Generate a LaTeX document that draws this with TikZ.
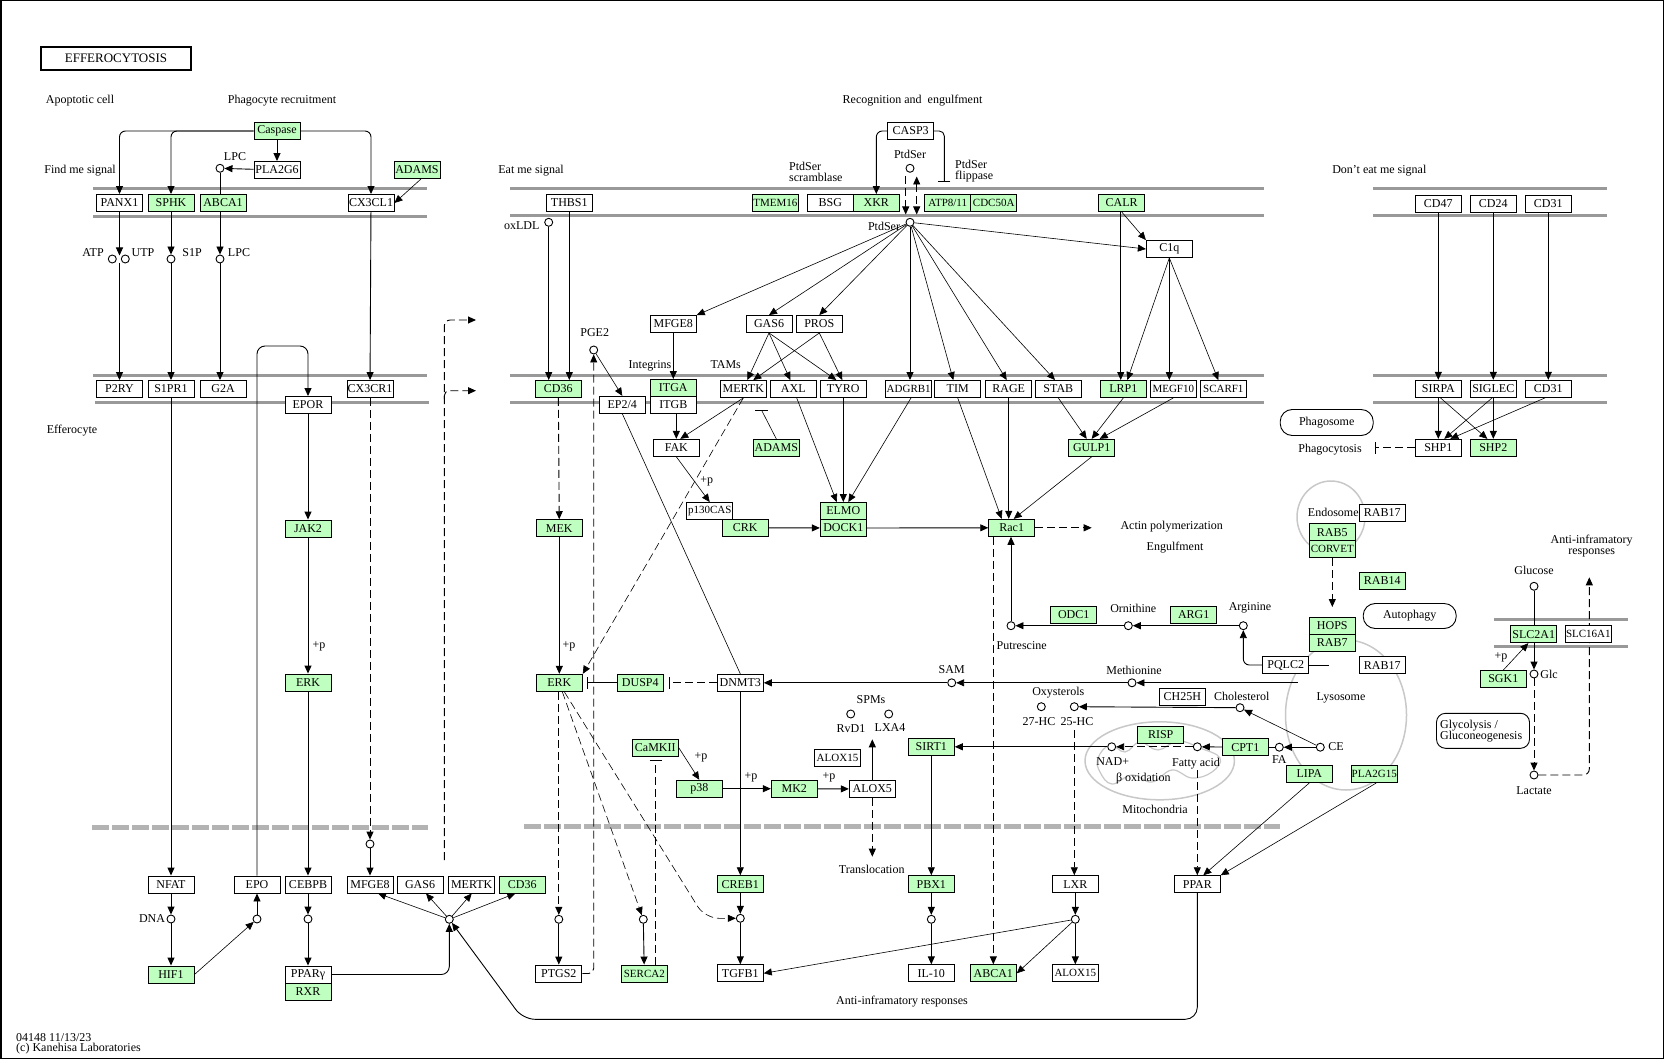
\documentclass[tikz,border=0pt]{standalone}
\usepackage{fontspec}
\setmainfont{Liberation Serif}
\usetikzlibrary{arrows.meta,calc}
\definecolor{kg}{RGB}{191,255,191}
\definecolor{membc}{RGB}{153,153,153}
\definecolor{lgray}{RGB}{200,200,200}
\definecolor{dgray}{RGB}{179,179,179}
\pgfdeclarelayer{back}\pgfdeclarelayer{mid}\pgfsetlayers{back,mid,main}
\begin{document}
\begin{tikzpicture}[x=1pt,y=-1pt,
  box/.style={draw, line width=0.9pt, fill=white, minimum width=46pt, minimum height=17pt, inner sep=0pt, font=\fontsize{12}{12}\selectfont},
  gbox/.style={box, fill=kg},
  nw/.style={font=\fontsize{11}{12}\selectfont},
  cpd/.style={circle, draw, line width=0.9pt, fill=white, minimum size=8pt, inner sep=0pt},
  lab/.style={inner sep=0pt, font=\fontsize{12}{13}\selectfont},
  rbox/.style={draw, line width=0.9pt, fill=white, rounded corners=12pt, minimum width=93pt, minimum height=26pt, inner sep=0pt, font=\fontsize{12}{13}\selectfont},
  arr/.style={-{Triangle[length=8pt,width=7pt]}, line width=0.9pt},
  tarr/.style={-{Triangle[length=8pt,width=7pt]}, line width=0.6pt},
  ln/.style={line width=0.9pt},
  tln/.style={line width=0.6pt},
  dsh/.style={dash pattern=on 8pt off 4pt},
  darr/.style={arr, dsh},
  tdarr/.style={tarr, dsh},
  inh/.style={-{Bar[width=12pt]}, line width=0.9pt},
  memb/.style={draw=membc, line width=3pt},
  nucl/.style={draw=dgray, line width=5pt, dash pattern=on 17pt off 3pt},
]
\useasboundingbox (0,0) rectangle (1664,1059);
\draw[line width=1.5pt] (0.75,0.75) rectangle (1663.25,1058.25);

% ---------------- background: membranes, organelles
\begin{pgfonlayer}{back}
\draw[memb] (93,189)--(427,189) (93,217)--(427,217);
\draw[memb] (510,189)--(1264,189) (510,216)--(1264,216);
\draw[memb] (1373,189)--(1607,189) (1373,216)--(1607,216);
\draw[memb] (93,375.7)--(427,375.7) (95,402.7)--(429,402.7);
\draw[memb] (510,375.7)--(1264,375.7) (510,402.7)--(1264,402.7);
\draw[memb] (1373,375.7)--(1607,375.7) (1373,402.7)--(1607,402.7);
\draw[memb] (1494,619.7)--(1628,619.7) (1494,646.7)--(1628,646.7);
\draw[nucl] (92,827.7)--(428,827.7);
\draw[nucl] (524,826.7)--(1280,826.7);
\draw[lgray, line width=1.5pt] (1331,517) ellipse [x radius=34pt, y radius=36pt];
\draw[lgray, line width=1.5pt] (1346,715) ellipse [x radius=60.5pt, y radius=75pt];
\draw[lgray, line width=1.5pt] (1159.7,760.8) ellipse [x radius=74.7pt, y radius=39pt];
\draw[lgray, line width=1.2pt] plot[smooth cycle, tension=0.7] coordinates {(1098,758) (1110,745) (1125,752) (1140,742) (1158,750) (1178,741) (1200,748) (1220,758) (1212,772) (1192,778) (1172,770) (1152,782) (1132,775) (1112,784) (1100,772)};
\end{pgfonlayer}

% ---------------- title and labels
\node[draw, line width=2pt, minimum width=150pt, minimum height=23.6pt, inner sep=0pt, font=\fontsize{13}{14}\selectfont] (title) at (116,58.5) {EFFEROCYTOSIS};
\node[lab] (tApop) at (80,101) {Apoptotic cell};
\node[lab] (tPhag) at (282,101) {Phagocyte recruitment};
\node[lab] (tFind) at (80,171) {Find me signal};
\node[lab] (tLPC1) at (235,157) {LPC};
\node[lab] (tATP) at (93,253) {ATP};
\node[lab] (tUTP) at (143,253) {UTP};
\node[lab] (tS1P) at (192,253) {S1P};
\node[lab] (tLPC2) at (239,253) {LPC};
\node[lab] (tEff) at (72,431) {Efferocyte};
\node[lab] (tp1) at (319,646) {+p};
\node[lab] (tDNA) at (152,919) {DNA};
\node[lab, anchor=west] (tfoot1) at (16,1037.7) {04148 11/13/23};
\node[lab, anchor=west] (tfoot2) at (16,1049) {(c) Kanehisa Laboratories};
\node[lab] (tEat) at (531,171) {Eat me signal};
\node[lab] (tox) at (521.7,225.3) {oxLDL};
\node[lab, anchor=west, align=left, font=\fontsize{12}{11}\selectfont] (tscr) at (789,172.2) {PtdSer\\scramblase};
\node[lab] (tRec) at (912.5,101) {Recognition and \ engulfment};
\node[lab] (tPS1) at (910,154.7) {PtdSer};
\node[lab, anchor=west, align=left, font=\fontsize{12}{11}\selectfont] (tflip) at (955,171.3) {PtdSer\\flippase};
\node[lab] (tPS2) at (884,226.7) {PtdSer};
\node[lab] (tPGE2) at (594.7,332.3) {PGE2};
\node[lab] (tInt) at (650,365.7) {Integrins};
\node[lab] (tTAM) at (725.7,365) {TAMs};
\node[lab] (tp2) at (706.7,481.7) {+p};
\node[lab] (tp3) at (569,646) {+p};
\node[lab] (tActin) at (1171.7,526.7) {Actin polymerization};
\node[lab] (tEng) at (1175,547.7) {Engulfment};
\node[lab] (tOrn) at (1133.3,608.3) {Ornithine};
\node[lab] (tArg) at (1250,608.3) {Arginine};
\node[lab] (tPut) at (1021.7,645.7) {Putrescine};
\node[lab] (tSAM) at (951.7,670) {SAM};
\node[lab] (tMet) at (1134,670) {Methionine};
\node[lab] (tSPM) at (871,700) {SPMs};
\node[lab] (tRvD1) at (851,729) {RvD1};
\node[lab] (tLXA4) at (890,727.3) {LXA4};
\node[lab] (tOxy) at (1058.3,692.7) {Oxysterols};
\node[lab] (t27) at (1039,722) {27-HC};
\node[lab] (t25) at (1077,722) {25-HC};
\node[lab] (tChol) at (1241.7,696) {Cholesterol};
\node[lab] (tNAD) at (1112.7,761.7) {NAD+};
\node[lab] (tFatty) at (1196,763.3) {Fatty acid};
\node[lab] (tBeta) at (1143.3,779) {β oxidation};
\node[lab] (tMito) at (1155,809.3) {Mitochondria};
\node[lab] (tFA) at (1279.3,760) {FA};
\node[lab] (tCE) at (1336,746.5) {CE};
\node[lab] (tp4) at (701,757.3) {+p};
\node[lab] (tp5) at (751,777.3) {+p};
\node[lab] (tp6) at (829,777.3) {+p};
\node[lab] (tTrans) at (871.7,869) {Translocation};
\node[lab] (tAnti) at (902,1002) {Anti-inframatory responses};
\node[lab] (tDont) at (1379.3,170.7) {Don’t eat me signal};
\node[lab] (tPhgc) at (1330,450) {Phagocytosis};
\node[lab] (tEndo) at (1333.3,512.7) {Endosome};
\node[lab] (tLyso) at (1341,697.7) {Lysosome};
\node[lab, align=center, font=\fontsize{12}{11}\selectfont] (tAnti2) at (1591.7,546.5) {Anti-inframatory\\responses};
\node[lab] (tGlucose) at (1534,570) {Glucose};
\node[lab] (tGlc) at (1549,674) {Glc};
\node[lab] (tp7) at (1501,657.7) {+p};
\node[lab] (tLact) at (1534,790.7) {Lactate};

% ---------------- gene boxes
\node[gbox] (caspase) at (277,131) {Caspase};
\node[box] (pla2g6) at (277,170) {PLA2G6};
\node[gbox] (adamsA) at (417,170) {ADAMS};
\node[box] (panx1) at (119.5,203) {PANX1};
\node[gbox] (sphk) at (171,203) {SPHK};
\node[gbox] (abca1a) at (223,203) {ABCA1};
\node[box] (cx3cl1) at (371,203) {CX3CL1};
\node[box] (p2ry) at (119.5,389) {P2RY};
\node[box] (s1pr1) at (171,389) {S1PR1};
\node[box] (g2a) at (223,389) {G2A};
\node[box] (epor) at (308,405) {EPOR};
\node[box] (cx3cr1) at (370,389) {CX3CR1};
\node[gbox] (jak2) at (308,528.5) {JAK2};
\node[gbox] (erkA) at (308,682.5) {ERK};
\node[box] (nfat) at (171,884.5) {NFAT};
\node[gbox] (hif1) at (171,974.5) {HIF1};
\node[box] (epo) at (257,884.5) {EPO};
\node[box] (cebpb) at (308,884.5) {CEBPB};
\node[box] (ppary) at (308,974.5) {PPARγ};
\node[gbox] (rxr) at (308,991.5) {RXR};
\node[box] (mfge8b) at (370,884.5) {MFGE8};
\node[box] (gas6b) at (420,884.5) {GAS6};
\node[box] (mertkb) at (471.7,884.5) {MERTK};
\node[gbox] (cd36b) at (522.3,884.5) {CD36};

\node[box] (thbs1) at (569.3,203) {THBS1};
\node[gbox,nw] (tmem16) at (775.3,203) {TMEM16};
\node[box] (bsg) at (830.3,203) {BSG};
\node[gbox] (xkr) at (876.3,203) {XKR};
\node[gbox,nw] (atp811) at (947.7,203) {ATP8/11};
\node[gbox,nw] (cdc50a) at (993.7,203) {CDC50A};
\node[gbox] (calr) at (1121.7,203) {CALR};
\node[box] (casp3) at (910.7,131) {CASP3};
\node[box] (c1q) at (1169.3,249) {C1q};
\node[box] (mfge8a) at (673.3,324) {MFGE8};
\node[box] (gas6a) at (769,324) {GAS6};
\node[box] (pros) at (819.3,324) {PROS};
\node[gbox] (cd36a) at (558.3,389) {CD36};
\node[box] (ep24) at (622.3,404.8) {EP2/4};
\node[gbox] (itga) at (673.3,388) {ITGA};
\node[box] (itgb) at (673.3,405) {ITGB};
\node[box] (mertk) at (743.3,389) {MERTK};
\node[box] (axl) at (793.3,389) {AXL};
\node[box] (tyro) at (843.3,389) {TYRO};
\node[box,nw] (adgrb1) at (908.7,389) {ADGRB1};
\node[box] (tim) at (957.7,389) {TIM};
\node[box] (rage) at (1008.7,389) {RAGE};
\node[box] (stab) at (1058.3,389) {STAB};
\node[gbox] (lrp1) at (1123.3,389) {LRP1};
\node[box,nw] (megf10) at (1173.3,389) {MEGF10};
\node[box,nw] (scarf1) at (1223.3,389) {SCARF1};
\node[box] (fak) at (676.3,447.8) {FAK};
\node[gbox] (adamsB) at (776.3,447.8) {ADAMS};
\node[gbox] (gulp1) at (1091.7,447.8) {GULP1};
\node[box,nw] (p130cas) at (709.7,511) {p130CAS};
\node[gbox] (crk) at (745.3,527.8) {CRK};
\node[gbox] (elmo) at (843.3,511) {ELMO};
\node[gbox] (dock1) at (843.3,528) {DOCK1};
\node[gbox] (rac1) at (1011.7,527.8) {Rac1};
\node[gbox] (mek) at (559.3,528.2) {MEK};
\node[gbox] (erkB) at (559.3,682.8) {ERK};
\node[gbox] (dusp4) at (640.3,682.8) {DUSP4};
\node[box] (dnmt3) at (740.3,682.8) {DNMT3};
\node[gbox] (odc1) at (1073.7,615) {ODC1};
\node[gbox] (arg1) at (1193.7,615) {ARG1};
\node[box] (pqlc2) at (1285.7,665) {PQLC2};
\node[box] (ch25h) at (1182.3,696.8) {CH25H};
\node[gbox] (camkii) at (655.3,747.7) {CaMKII};
\node[gbox] (p38) at (699.3,788.7) {p38};
\node[gbox] (mk2) at (794.3,788.7) {MK2};
\node[box] (alox5) at (872.3,789) {ALOX5};
\node[box,nw] (alox15a) at (837.5,758) {ALOX15};
\node[gbox] (sirt1) at (931.3,746.8) {SIRT1};
\node[gbox] (risp) at (1160.7,734.7) {RISP};
\node[gbox] (cpt1) at (1245.3,747.2) {CPT1};
\node[gbox] (lipa) at (1309.3,774) {LIPA};
\node[gbox,nw] (pla2g15) at (1374.3,774) {PLA2G15};
\node[gbox] (creb1) at (740.3,884.2) {CREB1};
\node[gbox] (pbx1) at (931.3,884.2) {PBX1};
\node[box] (lxr) at (1075.3,884.2) {LXR};
\node[box] (ppar) at (1197.3,884.2) {PPAR};
\node[box] (ptgs2) at (558.8,973.5) {PTGS2};
\node[gbox,nw] (serca2) at (644.3,973.5) {SERCA2};
\node[box] (tgfb1) at (740.3,973.3) {TGFB1};
\node[box] (il10) at (931.3,973.3) {IL-10};
\node[gbox] (abca1b) at (993.3,973.3) {ABCA1};
\node[box,nw] (alox15b) at (1075.3,973.3) {ALOX15};

\node[box] (cd47) at (1438.3,203.8) {CD47};
\node[box] (cd24) at (1493.3,203.8) {CD24};
\node[box] (cd31a) at (1548.3,203.8) {CD31};
\node[box] (sirpa) at (1438.3,388.8) {SIRPA};
\node[box] (siglec) at (1493.3,388.8) {SIGLEC};
\node[box] (cd31b) at (1548.3,388.8) {CD31};
\node[box] (shp1) at (1438.3,447.8) {SHP1};
\node[gbox] (shp2) at (1493.3,447.8) {SHP2};
\node[box] (rab17a) at (1382.3,513) {RAB17};
\node[gbox] (rab5) at (1332.3,532.2) {RAB5};
\node[gbox,nw] (corvet) at (1332.3,549) {CORVET};
\node[gbox] (rab14) at (1382.3,580.5) {RAB14};
\node[gbox] (hops) at (1332.3,625.8) {HOPS};
\node[gbox] (rab7) at (1332.3,642.8) {RAB7};
\node[box] (rab17b) at (1382.3,665.2) {RAB17};
\node[gbox] (slc2a1) at (1533.7,634.2) {SLC2A1};
\node[box,nw] (slc16a1) at (1588.3,634.2) {SLC16A1};
\node[gbox] (sgk1) at (1503.3,679) {SGK1};

\node[rbox] (phagosome) at (1326.7,422.5) {Phagosome};
\node[rbox, minimum height=25pt] (autophagy) at (1409.7,616) {Autophagy};
\node[rbox, rounded corners=9pt, minimum height=35pt] (glyco) at (1483,730.8) {};
\node[lab, anchor=west, align=left, font=\fontsize{12}{11}\selectfont] (tglyco) at (1440,731) {Glycolysis /\\Gluconeogenesis};

% ---------------- compounds
\node[cpd] (lpcA) at (220,168.3) {};
\node[cpd] (atp) at (112.3,259) {};
\node[cpd] (utp) at (125.3,259) {};
\node[cpd] (s1p) at (171,259) {};
\node[cpd] (lpcB) at (220,259) {};
\node[cpd] (dna) at (171,919) {};
\node[cpd] (epoc) at (257,919) {};
\node[cpd] (cebpc) at (308,919) {};
\node[cpd] (mfgc) at (370,844) {};
\node[cpd] (mc) at (449.3,919.3) {};
\node[cpd] (ptgc) at (558.8,919.3) {};
\node[cpd] (serc) at (643.3,919.3) {};
\node[cpd] (crebc) at (740.3,918.3) {};
\node[cpd] (pbxc) at (931.3,919.3) {};
\node[cpd] (lxrc) at (1075.3,919.3) {};
\node[cpd] (pge2) at (593.7,350) {};
\node[cpd] (oxldl) at (548.7,222.3) {};
\node[cpd] (ptsA) at (910,168.3) {};
\node[cpd] (ptsB) at (910,222.3) {};
\node[cpd] (putr) at (1011,625.7) {};
\node[cpd] (orn) at (1128.3,625.7) {};
\node[cpd] (argn) at (1243.3,625.7) {};
\node[cpd] (sam) at (951.7,682.8) {};
\node[cpd] (meth) at (1132,682.8) {};
\node[cpd] (rvd1) at (850.7,714) {};
\node[cpd] (lxa4) at (888.7,714) {};
\node[cpd] (hc27) at (1041.3,706.7) {};
\node[cpd] (hc25) at (1074.3,706.7) {};
\node[cpd] (chol) at (1240,707.7) {};
\node[cpd] (nad) at (1111.7,746.8) {};
\node[cpd] (fatty) at (1197.3,746.8) {};
\node[cpd] (fa) at (1279.3,747.2) {};
\node[cpd] (ce) at (1320.3,747.2) {};
\node[cpd] (glucose) at (1534,586.3) {};
\node[cpd] (glc) at (1534,674) {};
\node[cpd] (lactate) at (1534,775) {};

% ---------------- free ends
\coordinate (atpj) at (119.5,255.5);
\coordinate (atpk) at (119.5,263);
\coordinate (dtop) at (476,320);
\coordinate (dmid) at (476,390.7);
\coordinate (dmidS) at (444.3,399);
\coordinate (dbot) at (444.3,860);
\coordinate (methS) at (1297.7,682.8);
\coordinate (camkbar) at (655.7,760);
\coordinate (spmup) at (872.3,739.3);
\coordinate (transl) at (872.3,856.7);
\coordinate (hc25b) at (1074.3,730);
\coordinate (fattyb) at (1197.3,770);
\coordinate (pqe) at (1329,665);
\coordinate (actin) at (1091.7,527.8);
\coordinate (adbar) at (761.7,410.5);
\coordinate (flip) at (944.3,181.7);
\coordinate (ptsd1) at (905.7,176);
\coordinate (ptsd2) at (905.7,214.5);
\coordinate (ptsu1) at (916.7,176.5);
\coordinate (ptsu2) at (916.7,214.5);
\coordinate (phagbar) at (1375,447.8);
\coordinate (hopsin) at (1332.3,607);
\coordinate (antir) at (1589.3,577.3);

% ---------------- connectors
\begin{pgfonlayer}{mid}
\draw[arr, rounded corners=6] (caspase.west) -| (panx1.north);
\draw[arr, rounded corners=6] (caspase.west) -| (sphk.north);
\draw[arr, rounded corners=6] (caspase.east) -| (cx3cl1.north);
\draw[arr] (caspase) -- (pla2g6);
\draw[arr] (pla2g6) -- (lpcA);
\draw[ln] (lpcA) -- (lpcA |- abca1a.north);
\draw[tarr] ($(adamsA.south)+(4,0)$) -- (cx3cl1.east);
\draw[arr] (panx1.south) -- (atpj);
\draw[arr] (atpk) -- (p2ry.north);
\draw[arr] (sphk) -- (s1p);
\draw[arr] (s1p) -- (s1pr1);
\draw[arr] (lpcB |- abca1a.south) -- (lpcB);
\draw[arr] (lpcB) -- (lpcB |- g2a.north);
\draw[arr] (cx3cl1) -- (cx3cr1);
\draw[arr, rounded corners=8] (epo.north) |- (282,346) -| (epor.north);
\draw[arr] (epor) -- (jak2);
\draw[arr] (jak2) -- (erkA);
\draw[arr] (erkA) -- (cebpb);
\draw[arr] (s1pr1) -- (nfat);
\draw[darr] (cx3cr1) -- (mfgc);
\draw[arr] (mfgc) -- (mfge8b);
\draw[arr] (nfat) -- (dna);
\draw[arr] (dna) -- (hif1);
\draw[tarr] (hif1.east) -- (epoc);
\draw[arr] (epoc) -- (epo);
\draw[arr] (cebpb) -- (cebpc);
\draw[arr] (cebpc) -- (ppary);
\draw[arr, rounded corners=8] (ppary.east) -| (mc.south);
\draw[tarr] (mc) -- ($(mfge8b.south)+(8,0)$);
\draw[tarr] (mc) -- ($(gas6b.south)+(6,0)$);
\draw[tarr] (mc) -- (mertkb.south);
\draw[tarr] (mc) -- ($(cd36b.south)+(-7,0)$);
\draw[arr, rounded corners=12] (ppar.south) |- (523,1019.3) -- (mc);
\draw[darr, rounded corners=6] (dbot) |- (dtop);
\draw[darr, rounded corners=5] (dmidS) |- (dmid);

\draw[arr] (oxldl) -- (oxldl |- cd36a.north);
\draw[arr] (thbs1) -- (thbs1 |- cd36a.north);
\draw[darr] (cd36a) -- (mek);
\draw[arr] (mek) -- (erkB);
\draw[inh] (dusp4.west) -- ($(erkB.east)+(4.4,0)$);
\draw[inh, dsh] (dnmt3.west) -- ($(dusp4.east)+(5,0)$);
\draw[arr] (methS) -- (meth);
\draw[arr] (meth) -- (sam);
\draw[arr] (sam) -- (dnmt3);
\draw[arr] (dnmt3) -- (creb1);
\draw[tln] (ep24.south) -- (dnmt3.north);
\draw[tarr] (pge2) -- (ep24.north);
\draw[darr, rounded corners=5] (ptgs2.east) -| (pge2.south);
\draw[darr] (erkB.south -| ptgc) -- (ptgc);
\draw[tdarr] ($(erkB.south)+(3,0)$) -- (serc);
\draw[tdarr, rounded corners=14] ($(erkB.south)+(5,0)$) -- (705,918.3) -- (crebc);
\draw[arr] (ptgc) -- (ptgs2);
\draw[arr] (serc) -- (serca2);
\draw[arr] (creb1) -- (crebc);
\draw[arr] (crebc) -- (tgfb1);
\draw[inh, dsh] (serca2.north -| camkbar) -- (camkbar);
\draw[tarr] (camkii.east) -- (p38.north);
\draw[arr] (p38) -- (mk2);
\draw[arr] (mk2) -- (alox5);
\draw[arr] (alox5.north) -- (spmup);
\draw[darr] (alox5.south) -- (transl);
\draw[arr] (nad) -- (sirt1);
\draw[darr] (fatty) -- (nad);
\draw[arr] (cpt1) -- (fatty);
\draw[ln] (fa) -- (cpt1);
\draw[arr] (ce) -- (fa);
\draw[tarr] (ce) -- (chol);
\draw[arr] (chol) -- (hc25);
\draw[darr] (hc25b) -- (hc25b |- lxr.north);
\draw[arr] (lxr) -- (lxrc);
\draw[arr] (lxrc) -- (alox15b);
\draw[tarr] (lxrc) -- (abca1b.east);
\draw[tarr] (lxrc) -- (tgfb1.east);
\draw[arr] (sirt1) -- (pbx1);
\draw[arr] (pbx1) -- (pbxc);
\draw[arr] (pbxc) -- (il10);
\draw[darr] (rac1.south -| abca1b) -- (abca1b);
\draw[darr] (fattyb) -- (ppar.north);
\draw[tarr] (lipa.south) -- ($(ppar.north)+(6,0)$);
\draw[tarr] ($(pla2g15.south)+(2,0)$) -- (ppar.north east);

\draw[arr] (putr) -- (putr |- rac1.south);
\draw[arr] (orn) -- (putr);
\draw[arr] (argn) -- (orn);
\draw[arr, rounded corners=6] (pqlc2.west) -| (argn);
\draw[ln] (pqlc2.east) -- (pqe);
\draw[darr] (rac1.east) -- (actin);
\draw[arr] (dock1.east) -- (rac1.west);
\draw[arr] (crk) -- (dock1);
\draw[tarr] (fak.south) -- (p130cas.north);
\draw[tarr] (mertk.south) -- ($(fak.north)+(4,0)$);
\draw[arr] (itgb.south -| fak) -- (fak.north);
\draw[arr] (mfge8a) -- (itga);
\draw[tln] (adamsB.north) -- (adbar);
\draw[ln] ($(adbar)+(-6.5,0)$) -- ($(adbar)+(6.5,0)$);
\draw[tdarr] (mertk.south) -- (erkB.north east);
\draw[tarr] ($(axl.south)+(3.4,0)$) -- ($(elmo.north)+(-6.6,0)$);
\draw[arr] (tyro) -- (elmo);
\draw[tarr] ($(adgrb1.south)+(2.3,0)$) -- ($(elmo.north)+(5,0)$);
\draw[tarr] (tim.south) -- ($(rac1.north)+(-10,0)$);
\draw[arr] (rage.south) -- (rage.south |- rac1.north);
\draw[tarr] (gulp1.south) -- ($(rac1.north)+(2,0)$);
\draw[tarr] (stab.south) -- ($(gulp1.north)+(-5,0)$);
\draw[tarr] (lrp1.south) -- (gulp1.north);
\draw[tarr] (megf10.south) -- ($(gulp1.north)+(8,0)$);
\draw[tarr] (gas6a.south) -- ($(mertk.north)+(4,0)$);
\draw[tarr] (gas6a.south) -- ($(axl.north)+(-3,0)$);
\draw[tarr] (gas6a.south) -- ($(tyro.north)+(-7,0)$);
\draw[tarr] (pros.south) -- ($(mertk.north)+(10,0)$);
\draw[tarr] (pros.south) -- ($(tyro.north)+(-1,0)$);
\draw[tarr] (ptsB) -- (mfge8a.north east);
\draw[tarr] (ptsB) -- (gas6a.north);
\draw[tarr] (ptsB) -- (pros.north);
\draw[arr] (ptsB) -- (ptsB |- adgrb1.north);
\draw[tarr] (ptsB) -- ($(tim.north)+(-4.4,0)$);
\draw[tarr] (ptsB) -- ($(rage.north)+(-2,0)$);
\draw[tarr] (ptsB) -- ($(stab.north)+(-3.3,0)$);
\draw[tarr] (ptsB) -- (c1q.west);
\draw[tarr] (calr.south) -- (c1q.north west);
\draw[arr] ($(calr.south)+(-1,0)$) -- ($(lrp1.north)+(-2.6,0)$);
\draw[tarr] (c1q.south) -- ($(lrp1.north)+(4,0)$);
\draw[arr] (c1q.south) -- (c1q.south |- megf10.north);
\draw[tarr] (c1q.south) -- ($(scarf1.north)+(-5,0)$);
\draw[arr, rounded corners=6] (casp3.west) -| (xkr.north);
\draw[inh, rounded corners=5] (casp3.east) -| (flip);
\draw[darr] (ptsd1) -- (ptsd2);
\draw[dsh, line width=0.9pt, {Triangle[length=8pt,width=7pt]}-{Triangle[length=8pt,width=7pt]}] (ptsu1) -- (ptsu2);

\draw[arr] (cd47) -- (sirpa);
\draw[arr] (cd24) -- (siglec);
\draw[arr] (cd31a) -- (cd31b);
\draw[arr] (sirpa) -- (shp1);
\draw[tarr] ($(sirpa.south)+(2,0)$) -- ($(shp2.north)+(-6,0)$);
\draw[tarr] ($(siglec.south)+(-1,0)$) -- ($(shp1.north)+(6,0)$);
\draw[arr] (siglec) -- (shp2);
\draw[tarr] ($(cd31b.south)+(-3,0)$) -- ($(shp1.north)+(12,0)$);
\draw[inh, dsh] (shp1.west) -- (phagbar);
\draw[darr] (corvet) -- (hopsin);
\draw[arr] (glucose) -- (glc);
\draw[tarr] (sgk1.north) -- ($(slc2a1.south)+(-5.4,0)$);
\draw[darr] (glc) -- (lactate);
\draw[darr, rounded corners=6] (lactate) -| (antir);
\end{pgfonlayer}
\end{tikzpicture}
\end{document}
